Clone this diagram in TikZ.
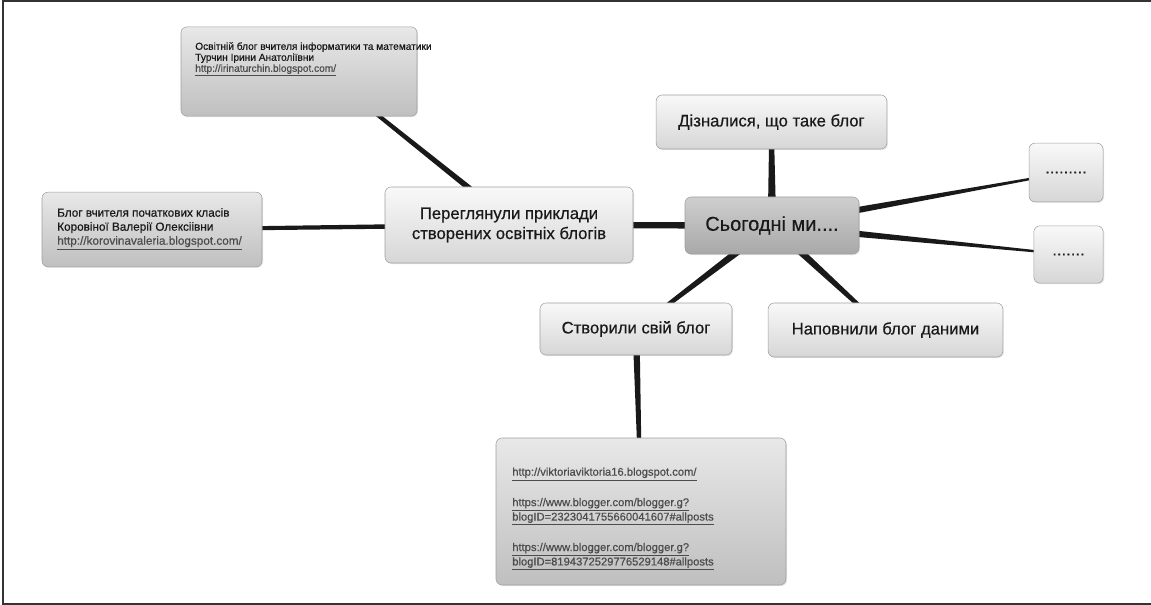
\documentclass[tikz,border=0pt]{standalone}
\usepackage{fontspec}
\setmainfont{Liberation Sans}
\newfontfamily\heavyfont[FakeBold=0.5]{Liberation Sans}
\usetikzlibrary{calc,backgrounds,shadows}

\tikzset{
  box/.style={draw=gray!75, rounded corners=4.5pt, top color=gray!5, bottom color=gray!32,
    drop shadow={opacity=0.2,shadow xshift=0.8pt,shadow yshift=-0.8pt},
    text=black!90, font=\heavyfont\fontsize{12.5}{15}\selectfont, align=center, inner sep=0pt},
  hub/.style={box, top color=gray!38, bottom color=gray!68, font=\heavyfont\fontsize{15}{18}\selectfont},
  infobox/.style={box, top color=gray!18, bottom color=gray!50},
  note/.style={align=left, inner sep=0pt, text=black!90},
}
\newcommand{\branch}[4]{% from, to, half width at start, half width at end
  \fill[black!90] ($(#1)!#3!90:(#2)$) -- ($(#2)!#4!-90:(#1)$) -- ($(#2)!#4!90:(#1)$) -- ($(#1)!#3!-90:(#2)$) -- cycle;}
\newcommand{\weblink}[1]{\textcolor{black!70}{\underline{#1}}}

\begin{document}
\begin{tikzpicture}[x=0.75pt, y=-0.75pt]
  \useasboundingbox (0,0) rectangle (1151,605);
  \draw[gray!40!black, line width=1.4pt] (1151,1) -- (3,1) -- (3,604) -- (1151,604);

  % centre and first ring
  \node[hub, minimum width=130.5pt, minimum height=42.75pt] (today) at (772,225.5) {Сьогодні ми....};
  \node[box, minimum width=173pt, minimum height=40.5pt] (learned) at (771.5,122) {Дізналися, що таке блог};
  \node[box, minimum width=55.5pt, minimum height=44pt] (dotsA) at (1066,172.5) {.........};
  \node[box, minimum width=52pt, minimum height=43pt] (dotsB) at (1068.5,254.5) {.......};
  \node[box, minimum width=176pt, minimum height=40.5pt] (filled) at (885.5,330) {Наповнили блог даними};
  \node[box, minimum width=144pt, minimum height=39pt] (created) at (636,329) {Створили свій блог};
  \node[box, minimum width=186pt, minimum height=57pt] (review) at (509,225)
    {Переглянули приклади\\створених освітніх блогів};

  % blog boxes
  \node[infobox, minimum width=177pt, minimum height=67pt] (blogA) at (299,71.5) {};
  \node[note, anchor=north west, font=\heavyfont\fontsize{7.6}{8.25}\selectfont] (blogAtext) at (195,42)
    {Освітній блог вчителя інформатики та математики\\Турчин Ірини Анатоліївни\\
     \weblink{http://irinaturchin.blogspot.com/}};
  \node[infobox, minimum width=165pt, minimum height=56pt] (blogB) at (152,229.5) {};
  \node[note, anchor=west, font=\heavyfont\fontsize{8.8}{10.5}\selectfont] (blogBtext) at (57,229)
    {Блог вчителя початкових класів\\Коровіної Валерії Олексіівни\\
     \weblink{http://korovinavaleria.blogspot.com/}};
  \node[infobox, minimum width=217.5pt, minimum height=110.25pt] (blogs) at (641,511.5) {};
  \node[note, anchor=west, font=\heavyfont\fontsize{8.4}{9.75}\selectfont] (blogstext) at (512,519)
    {\weblink{http://viktoriaviktoria16.blogspot.com/}\\[12pt]
     \weblink{https://www.blogger.com/blogger.g?}\\\weblink{blogID=2323041755660041607\#allposts}\\[12pt]
     \weblink{https://www.blogger.com/blogger.g?}\\\weblink{blogID=8194372529776529148\#allposts}};

  \coordinate (reviewUp) at (484,200);
  \coordinate (blogAdown) at (359,100);

  \begin{scope}[on background layer]
    \branch{today}{learned}{3.2pt}{1.6pt}
    \branch{today}{dotsA}{3pt}{0.6pt}
    \branch{today}{dotsB}{3pt}{0.6pt}
    \branch{today}{filled}{3pt}{1.2pt}
    \branch{today}{created}{3pt}{1.2pt}
    \branch{today}{review}{2.6pt}{2pt}
    \branch{review}{blogB}{1.8pt}{1.4pt}
    \branch{reviewUp}{blogAdown}{2.2pt}{1.4pt}
    \branch{created}{blogs}{2.6pt}{1pt}
  \end{scope}
\end{tikzpicture}
\end{document}
